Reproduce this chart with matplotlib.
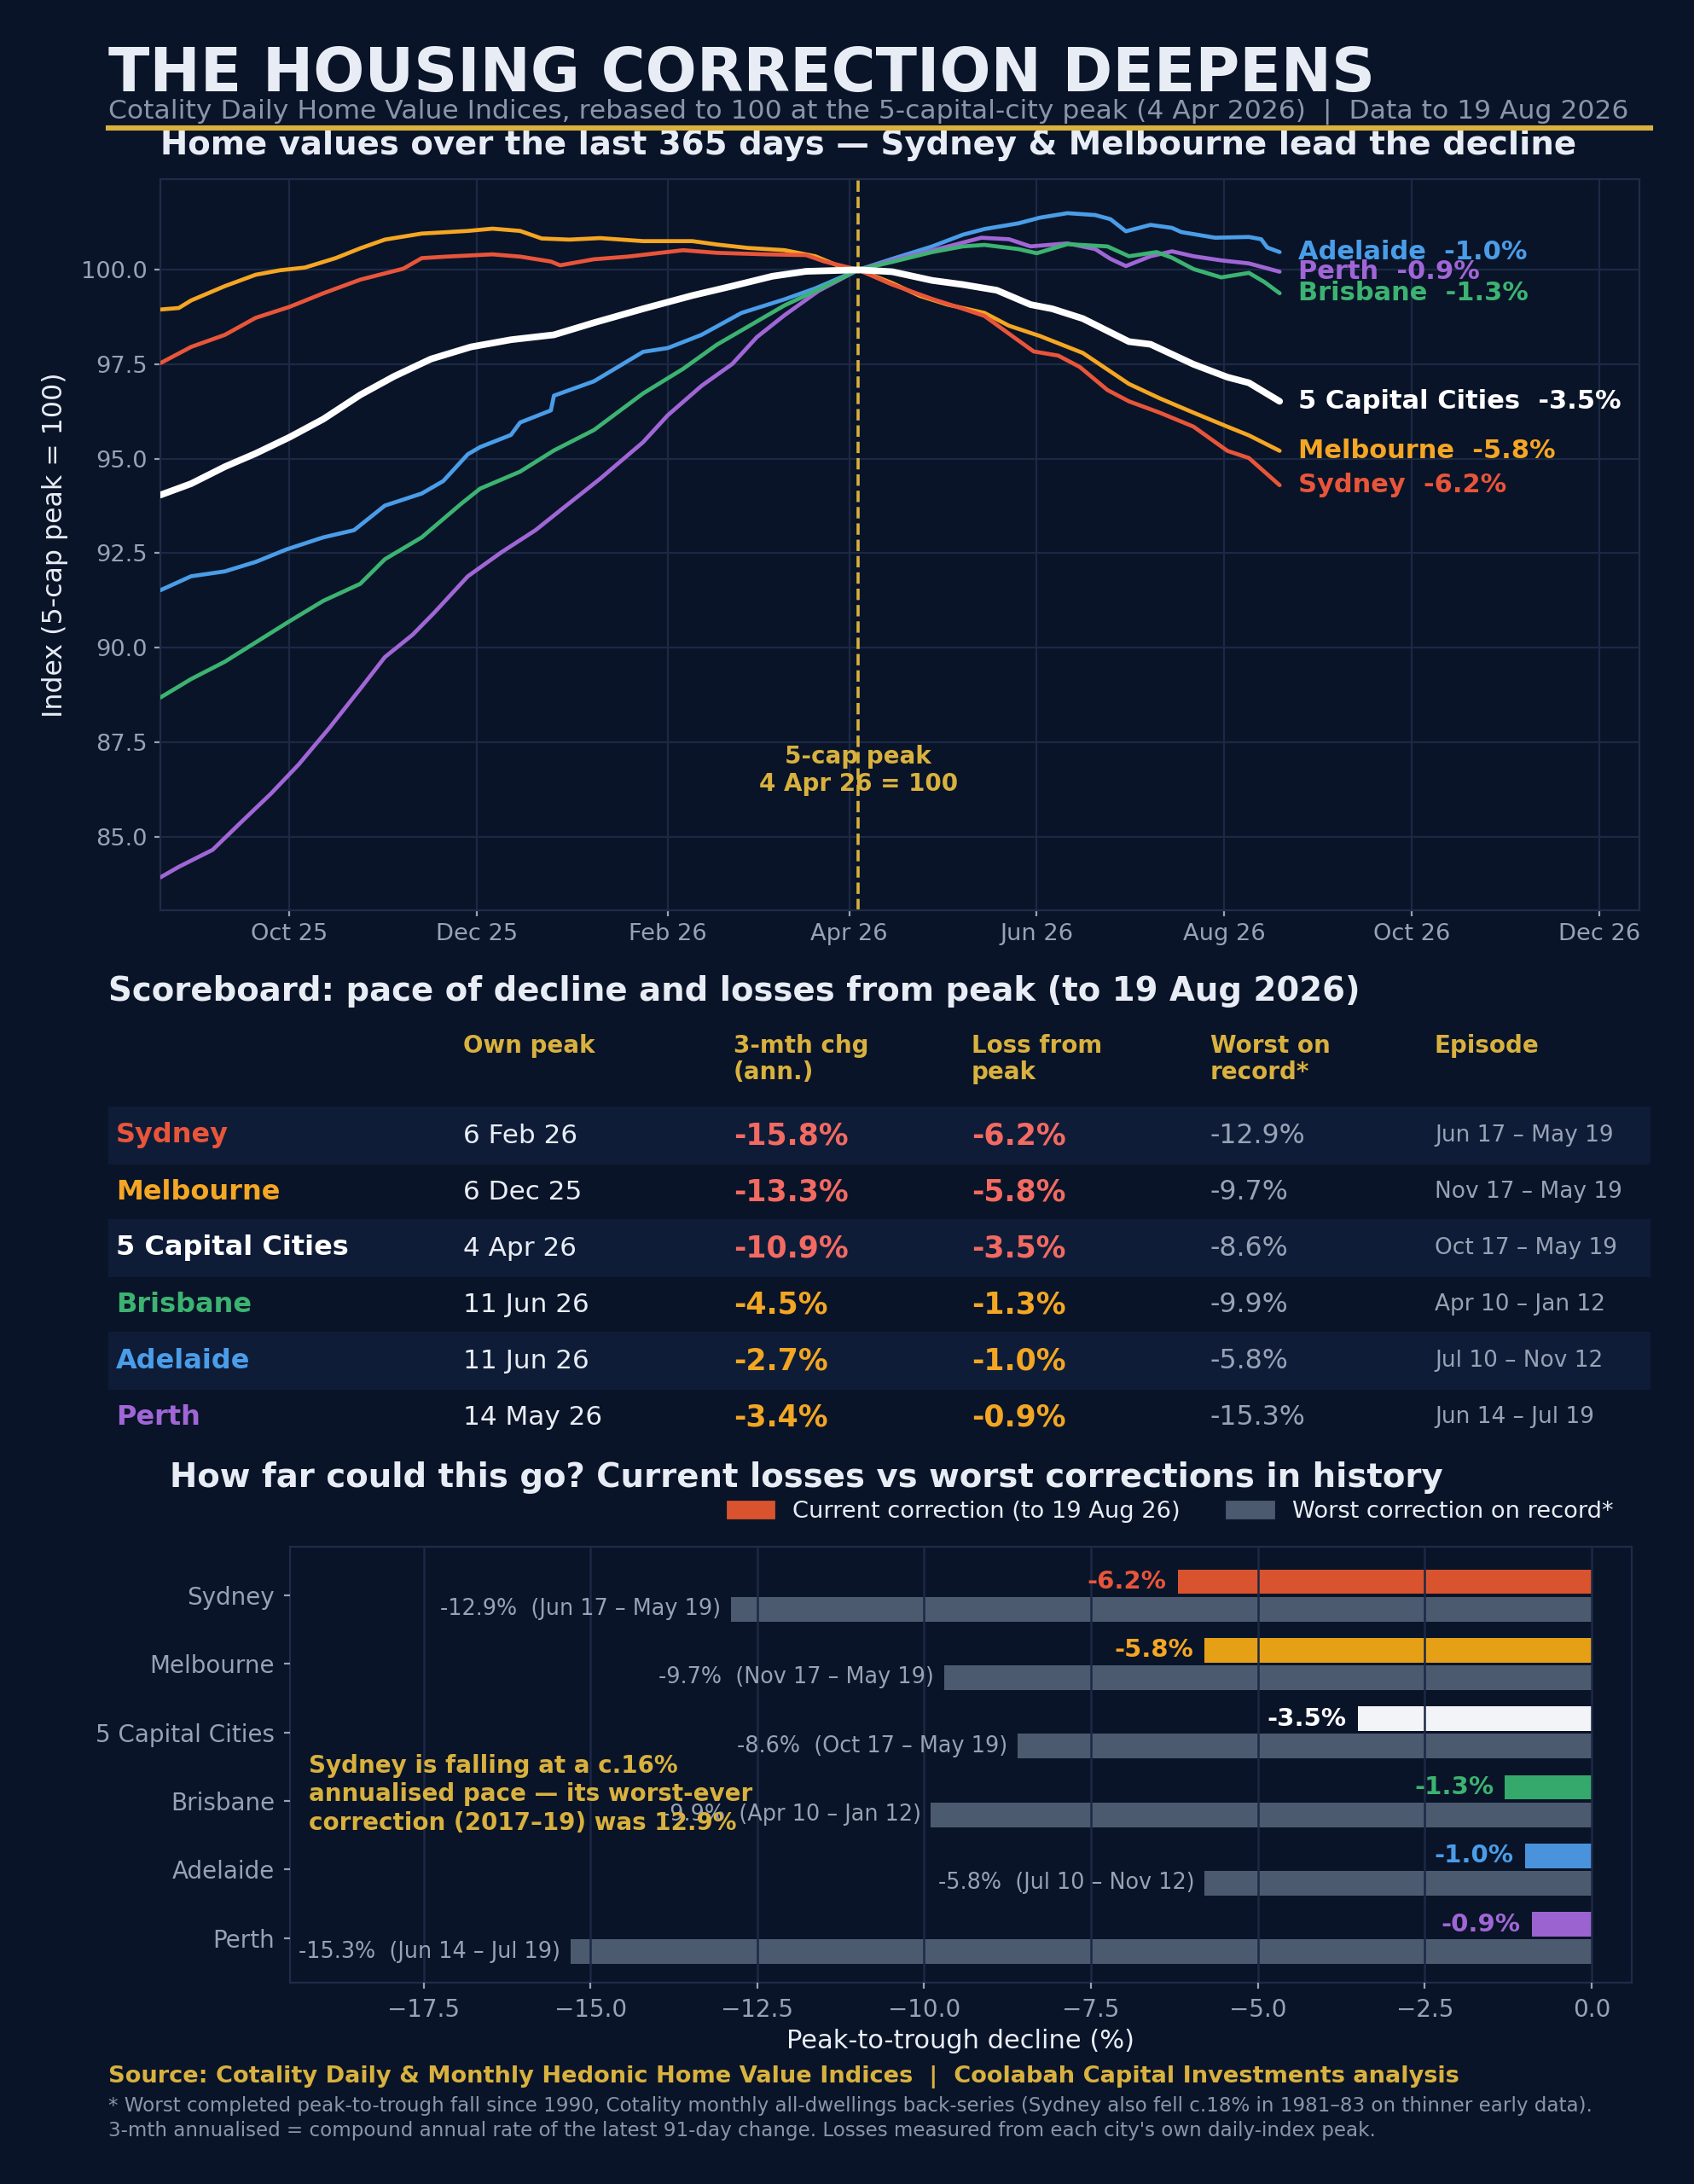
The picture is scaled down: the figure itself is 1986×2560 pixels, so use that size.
import matplotlib
matplotlib.use("Agg")
import matplotlib.pyplot as plt
import matplotlib.dates as mdates
from matplotlib.patches import Rectangle, Patch
from matplotlib.ticker import MultipleLocator, FormatStrFormatter
import pandas as pd

# ---------------------------------------------------------------------------
#   Data
# ---------------------------------------------------------------------------

start = pd.Timestamp("2025-08-20")
peak_date = pd.Timestamp("2026-04-04")

# days after 20 Aug 2025, index values (5-cap peak = 100)
syd_days = [0, 10, 21, 31, 42, 53, 65, 79, 85, 93, 108, 117, 127, 130, 141, 152, 170, 181,
            197, 210, 216, 227, 238, 251, 261, 268, 277, 284, 292, 299, 308, 315, 325, 336,
            347, 354, 364]
syd_vals = [97.53, 97.96, 98.28, 98.73, 99.02, 99.38, 99.74, 100.03, 100.31, 100.35, 100.41,
            100.35, 100.22, 100.12, 100.28, 100.35, 100.52, 100.45, 100.41, 100.39, 100.22,
            100.0, 99.61, 99.23, 98.97, 98.78, 98.25, 97.84, 97.73, 97.43, 96.82, 96.52,
            96.22, 95.85, 95.21, 95.02, 94.30]

mel_days = [0, 6, 10, 21, 31, 39, 47, 57, 65, 73, 85, 100, 108, 117, 124, 133, 143, 157, 173,
            181, 191, 203, 213, 221, 227, 238, 247, 256, 268, 276, 286, 300, 315, 325, 336,
            347, 354, 364]
mel_vals = [98.95, 98.99, 99.19, 99.57, 99.87, 99.99, 100.06, 100.31, 100.57, 100.80, 100.96,
            101.03, 101.09, 101.03, 100.83, 100.80, 100.84, 100.76, 100.76, 100.67, 100.58,
            100.52, 100.36, 100.09, 100.0, 99.65, 99.31, 99.08, 98.86, 98.52, 98.25, 97.80,
            96.98, 96.60, 96.22, 95.85, 95.62, 95.21]

cap_days = [0, 10, 21, 31, 42, 53, 65, 76, 88, 101, 114, 128, 141, 157, 173, 186, 199, 210,
            227, 238, 251, 261, 272, 283, 290, 300, 315, 322, 336, 347, 354, 364]
cap_vals = [94.04, 94.34, 94.79, 95.14, 95.57, 96.05, 96.69, 97.18, 97.64, 97.96, 98.15,
            98.28, 98.60, 98.97, 99.32, 99.57, 99.83, 99.96, 100.0, 99.95, 99.72, 99.61,
            99.46, 99.08, 98.97, 98.71, 98.10, 98.03, 97.50, 97.16, 97.01, 96.52]

bne_days = [0, 10, 21, 31, 42, 53, 65, 73, 85, 98, 104, 117, 128, 141, 157, 170, 181, 192,
            203, 213, 227, 238, 251, 261, 268, 279, 285, 295, 308, 315, 324, 329, 336, 345,
            354, 359, 364]
bne_vals = [88.68, 89.17, 89.63, 90.14, 90.70, 91.24, 91.69, 92.34, 92.92, 93.82, 94.21,
            94.66, 95.22, 95.76, 96.73, 97.38, 98.02, 98.54, 99.06, 99.44, 100.0, 100.21,
            100.47, 100.62, 100.66, 100.55, 100.44, 100.68, 100.62, 100.36, 100.47, 100.32,
            100.02, 99.80, 99.92, 99.68, 99.38]

adl_days = [0, 10, 21, 31, 41, 53, 63, 73, 85, 92, 100, 104, 114, 117, 127, 128, 141, 157,
            165, 176, 189, 203, 213, 227, 238, 251, 261, 268, 279, 286, 295, 304, 309, 314,
            322, 329, 332, 343, 354, 358, 360, 364]
adl_vals = [91.52, 91.89, 92.02, 92.27, 92.60, 92.92, 93.11, 93.76, 94.08, 94.41, 95.12,
            95.31, 95.63, 95.96, 96.28, 96.67, 97.05, 97.83, 97.93, 98.28, 98.86, 99.22,
            99.51, 100.0, 100.29, 100.62, 100.93, 101.08, 101.23, 101.38, 101.50, 101.45,
            101.34, 101.02, 101.19, 101.11, 101.00, 100.85, 100.87, 100.81, 100.59, 100.47]

per_days = [0, 6, 17, 26, 36, 45, 55, 65, 73, 82, 89, 100, 111, 122, 132, 143, 157, 165, 176,
            186, 194, 203, 214, 227, 238, 251, 260, 267, 276, 283, 295, 304, 309, 314, 322,
            329, 336, 345, 354, 364]
per_vals = [83.92, 84.2, 84.65, 85.36, 86.14, 86.91, 87.88, 88.91, 89.75, 90.34, 90.92,
            91.89, 92.53, 93.11, 93.76, 94.47, 95.44, 96.15, 96.93, 97.51, 98.22, 98.80,
            99.44, 100.0, 100.25, 100.51, 100.70, 100.85, 100.81, 100.62, 100.70, 100.55,
            100.29, 100.10, 100.36, 100.49, 100.36, 100.25, 100.17, 99.95]

# scoreboard
cities = ["Sydney", "Melbourne", "5 Capital Cities", "Brisbane", "Adelaide", "Perth"]
own_peak = ["6 Feb 26", "6 Dec 25", "4 Apr 26", "11 Jun 26", "11 Jun 26", "14 May 26"]
chg_3m = [-15.8, -13.3, -10.9, -4.5, -2.7, -3.4]
loss_peak = [-6.2, -5.8, -3.5, -1.3, -1.0, -0.9]
worst = [-12.9, -9.7, -8.6, -9.9, -5.8, -15.3]
episode = ["Jun 17 – May 19", "Nov 17 – May 19", "Oct 17 – May 19",
           "Apr 10 – Jan 12", "Jul 10 – Nov 12", "Jun 14 – Jul 19"]

# ---------------------------------------------------------------------------
#   Style
# ---------------------------------------------------------------------------

W, H, DPI = 1986, 2560, 200
BG = "#0a1428"
BAND = "#0f1c37"
GRID = "#1c2945"
SPINE = "#1f2c48"
GOLD = "#d8b13e"
TXT = "#e8edf5"
GREY = "#97a2b5"
MUTED = "#8a95aa"
RED = "#f26a62"
AMBER = "#f2a623"
BARGREY = "#4c5a70"

colors = {"Sydney": "#e8553a", "Melbourne": "#f5a623", "5 Capital Cities": "#ffffff",
          "Brisbane": "#3cb371", "Adelaide": "#4a9de8", "Perth": "#a066d6"}
bar_colors = {"Sydney": "#d9532f", "Melbourne": "#e5a016", "5 Capital Cities": "#f2f4f7",
              "Brisbane": "#35a96b", "Adelaide": "#4a93dc", "Perth": "#9b63cf"}

series = {
    "Adelaide": (adl_days, adl_vals),
    "Perth": (per_days, per_vals),
    "Brisbane": (bne_days, bne_vals),
    "Melbourne": (mel_days, mel_vals),
    "Sydney": (syd_days, syd_vals),
    "5 Capital Cities": (cap_days, cap_vals),
}


def fx(x):
    return x / W


def fy(y):
    return 1 - y / H


fig = plt.figure(figsize=(W / DPI, H / DPI), dpi=DPI, facecolor=BG)

# ---------------------------------------------------------------------------
#   Header
# ---------------------------------------------------------------------------

fig.text(fx(127), fy(107), "THE HOUSING CORRECTION DEEPENS", fontsize=25.5,
         fontweight="bold", color=TXT, va="baseline")
fig.text(fx(127), fy(138), "Cotality Daily Home Value Indices, rebased to 100 at the "
         "5-capital-city peak (4 Apr 2026)  |  Data to 19 Aug 2026",
         fontsize=11.3, color=MUTED, va="baseline")
fig.add_artist(plt.Line2D([fx(127), fx(1935)], [fy(150), fy(150)], color=GOLD, lw=2.2))

# ---------------------------------------------------------------------------
#   Line chart
# ---------------------------------------------------------------------------

ax = fig.add_axes([fx(188), fy(1067), (1922 - 188) / W, (1067 - 210) / H])
ax.set_facecolor(BG)
for name, (d, v) in series.items():
    dates = start + pd.to_timedelta(d, unit="D")
    is_cap = name == "5 Capital Cities"
    ax.plot(dates, v, color=colors[name], lw=2.8 if is_cap else 1.7,
            zorder=4 if is_cap else 3, solid_capstyle="round")
    ax.text(dates[-1] + pd.Timedelta(days=6), v[-1],
            f"{name}  {loss_peak[cities.index(name)]:.1f}%",
            color=colors[name], fontsize=11, fontweight="bold", va="center", ha="left")

ax.axvline(peak_date, color=GOLD, lw=1.3, ls="--", zorder=2)
ax.text(peak_date, 86.75, "5-cap peak\n4 Apr 26 = 100", color=GOLD, fontsize=10,
        fontweight="bold", ha="center", va="center")

ax.set_xlim(start, pd.Timestamp("2026-12-14"))
ax.set_ylim(83.05, 102.4)
ax.yaxis.set_major_locator(MultipleLocator(2.5))
ax.yaxis.set_major_formatter(FormatStrFormatter("%.1f"))
ax.xaxis.set_major_locator(mdates.MonthLocator(bymonth=[2, 4, 6, 8, 10, 12]))
ax.xaxis.set_major_formatter(mdates.DateFormatter("%b %y"))
ax.grid(True, color=GRID, lw=0.8)
ax.set_axisbelow(True)
ax.tick_params(colors=GREY, labelsize=9.8, length=2.5, pad=3)
for s in ax.spines.values():
    s.set_color(SPINE)
ax.set_ylabel("Index (5-cap peak = 100)", color=TXT, fontsize=11.4, labelpad=5.5)
ax.set_title("Home values over the last 365 days — Sydney & Melbourne lead the decline",
             loc="left", fontsize=13.9, fontweight="bold", color=TXT, pad=10.5)

# ---------------------------------------------------------------------------
#   Scoreboard
# ---------------------------------------------------------------------------

fig.text(fx(127), fy(1173), "Scoreboard: pace of decline and losses from peak (to 19 Aug 2026)",
         fontsize=13.9, fontweight="bold", color=TXT, va="baseline")

col_x = [136, 543, 860, 1139, 1419, 1682]
headers = ["Own peak", "3-mth chg\n(ann.)", "Loss from\npeak", "Worst on\nrecord*", "Episode"]
for x, h in zip(col_x[1:], headers):
    fig.text(fx(x), fy(1212), h, fontsize=10, fontweight="bold", color=GOLD, va="top",
             linespacing=1.15)

row_y0, row_h = 1331, 66
for i, city in enumerate(cities):
    yc = row_y0 + i * row_h
    if i % 2 == 0:
        fig.add_artist(Rectangle((fx(127), fy(yc + 34)), (1935 - 127) / W, 68 / H,
                                 color=BAND, lw=0, zorder=0))
    hot = RED if chg_3m[i] < -8 else AMBER
    fig.text(fx(col_x[0]), fy(yc), city, fontsize=11.5, fontweight="bold",
             color=colors[city], va="center")
    fig.text(fx(col_x[1]), fy(yc), own_peak[i], fontsize=11.2, color=TXT, va="center")
    fig.text(fx(col_x[2]), fy(yc), f"{chg_3m[i]:.1f}%", fontsize=12.5, fontweight="bold",
             color=hot, va="center")
    fig.text(fx(col_x[3]), fy(yc), f"{loss_peak[i]:.1f}%", fontsize=12.5, fontweight="bold",
             color=hot, va="center")
    fig.text(fx(col_x[4]), fy(yc), f"{worst[i]:.1f}%", fontsize=11.4, color=GREY, va="center")
    fig.text(fx(col_x[5]), fy(yc), episode[i], fontsize=9.5, color=GREY, va="center")

# ---------------------------------------------------------------------------
#   Bar chart
# ---------------------------------------------------------------------------

fig.text(fx(199), fy(1743), "How far could this go? Current losses vs worst corrections in history",
         fontsize=13.9, fontweight="bold", color=TXT, va="baseline")

bx = fig.add_axes([fx(340), fy(2324), (1913 - 340) / W, (2324 - 1813) / H])
bx.set_facecolor(BG)
ypos = list(range(len(cities)))
bx.barh([y - 0.2 for y in ypos], loss_peak, height=0.36,
        color=[bar_colors[c] for c in cities], zorder=2)
bx.barh([y + 0.2 for y in ypos], worst, height=0.36, color=BARGREY, zorder=2)
for i, city in enumerate(cities):
    bx.text(loss_peak[i] - 0.17, i - 0.2, f"{loss_peak[i]:.1f}%", color=colors[city],
            fontsize=10.5, fontweight="bold", ha="right", va="center")
    bx.text(worst[i] - 0.15, i + 0.2, f"{worst[i]:.1f}%  ({episode[i]})", color=GREY,
            fontsize=9.2, ha="right", va="center")

bx.text(-19.22, 2.9, "Sydney is falling at a c.16%\nannualised pace — its worst-ever\n"
        "correction (2017–19) was 12.9%", color=GOLD, fontsize=10, fontweight="bold",
        ha="left", va="center", linespacing=1.25, zorder=5)

bx.set_xlim(-19.5, 0.6)
bx.set_ylim(5.65, -0.71)
bx.set_yticks(ypos)
bx.set_yticklabels(cities)
bx.xaxis.set_major_locator(MultipleLocator(2.5))
bx.grid(True, axis="x", color=GRID, lw=0.9, zorder=3)
bx.set_axisbelow(False)
bx.tick_params(colors=GREY, labelsize=10, length=2.5, pad=4)
for s in bx.spines.values():
    s.set_color(SPINE)
bx.set_xlabel("Peak-to-trough decline (%)", color=TXT, fontsize=11, labelpad=3)

handles = [Patch(color=bar_colors["Sydney"], label="Current correction (to 19 Aug 26)"),
           Patch(color=BARGREY, label="Worst correction on record*")]
leg = fig.legend(handles=handles, loc="center", bbox_to_anchor=(fx(1372), fy(1772)),
                 ncol=2, frameon=False, fontsize=9.8)
for t in leg.get_texts():
    t.set_color(TXT)

# ---------------------------------------------------------------------------
#   Footer
# ---------------------------------------------------------------------------

fig.text(fx(127), fy(2435), "Source: Cotality Daily & Monthly Hedonic Home Value Indices  |  "
         "Coolabah Capital Investments analysis", fontsize=9.8, fontweight="bold",
         color=GOLD, va="center")
fig.text(fx(127), fy(2483), "* Worst completed peak-to-trough fall since 1990, Cotality monthly "
         "all-dwellings back-series (Sydney also fell c.18% in 1981–83 on thinner early data).\n"
         "3-mth annualised = compound annual rate of the latest 91-day change. Losses measured "
         "from each city's own daily-index peak.", fontsize=8.3, color=MUTED, va="center",
         linespacing=1.3)

fig.savefig("out.png", dpi=DPI, facecolor=BG)
